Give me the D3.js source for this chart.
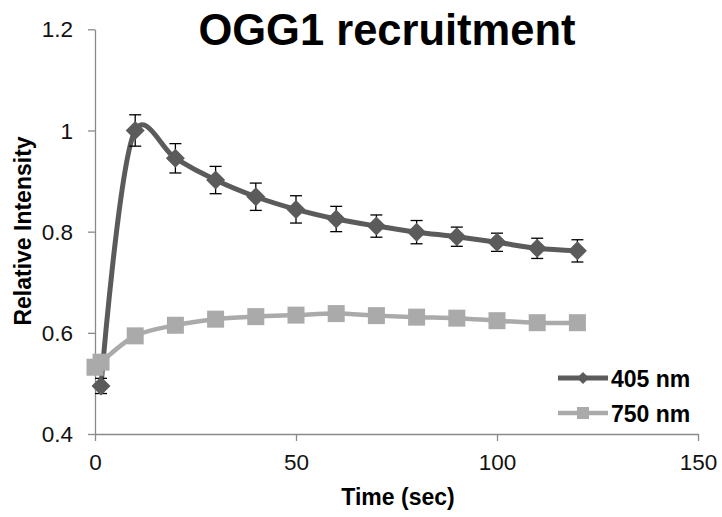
<!DOCTYPE html>
<html>
<head>
<meta charset="utf-8">
<script src="https://cdn.jsdelivr.net/npm/d3@7"></script>
<style>
  body { margin: 0; background: #fff; }
  text { font-family: Arial, "Liberation Sans", sans-serif; }
</style>
</head>
<body>
<svg width="722" height="517"></svg>
<script>
// data
var times405 = [1.5, 10, 20, 30, 40, 50, 60, 70, 80, 90, 100, 110, 120];
var nm405    = [0.495, 1.0, 0.945, 0.902, 0.869, 0.844, 0.825, 0.811, 0.799, 0.79, 0.779, 0.767, 0.762];
var err405   = [0.015, 0.031, 0.029, 0.027, 0.027, 0.027, 0.025, 0.022, 0.023, 0.019, 0.018, 0.02, 0.022];
var times750 = [0, 1.5, 10, 20, 30, 40, 50, 60, 70, 80, 90, 100, 110, 120];
var nm750    = [0.532, 0.542, 0.594, 0.615, 0.627, 0.632, 0.635, 0.638, 0.634, 0.631, 0.629, 0.624, 0.62, 0.62];
var xTicks = [0, 50, 100, 150];
var yTicks = [0.4, 0.6, 0.8, 1, 1.2];
var seriesNames = ['405 nm', '750 nm'];

var dark = '#5b5b5b', light = '#aaaaaa', axisCol = '#8a8a8a';

var svg = d3.select('svg');
var xScale = d3.scaleLinear().domain([0, 150]).range([95, 698]);
var yScale = d3.scaleLinear().domain([0.4, 1.2]).range([434, 29.3]);

// axes
var yAxis = svg.append('g')
  .attr('transform', 'translate(95,0)')
  .call(d3.axisLeft(yScale).tickValues(yTicks).tickSize(7).tickSizeOuter(0).tickPadding(15).tickFormat(d3.format('')));
var xAxis = svg.append('g')
  .attr('transform', 'translate(0,434)')
  .call(d3.axisBottom(xScale).tickValues(xTicks).tickSize(7).tickSizeOuter(0).tickPadding(14));
[xAxis, yAxis].forEach(function(a) {
  a.select('.domain').attr('stroke', axisCol).attr('stroke-width', 1.3);
  a.selectAll('.tick line').attr('stroke', axisCol).attr('stroke-width', 1.3);
  a.selectAll('.tick text').attr('fill', '#111').style('font-size', '22.5px')
    .style('font-family', 'Arial, "Liberation Sans", sans-serif');
});
yAxis.selectAll('.tick text').attr('dy', '0.34em');
xAxis.selectAll('.tick text').attr('dy', '0.68em');

// titles
svg.append('text').attr('x', 387).attr('y', 45).attr('text-anchor', 'middle')
  .style('font-size', '43.5px').style('font-weight', 'bold').text('OGG1 recruitment');
svg.append('text').attr('x', 398).attr('y', 505).attr('text-anchor', 'middle')
  .style('font-size', '23px').style('font-weight', 'bold').text('Time (sec)');
svg.append('text').attr('transform', 'translate(31,231) rotate(-90)').attr('text-anchor', 'middle')
  .style('font-size', '23px').style('font-weight', 'bold').text('Relative Intensity');

var d405 = times405.map((t, i) => ({t: t, v: nm405[i], e: err405[i]}));
var d750 = times750.map((t, i) => ({t: t, v: nm750[i]}));

// smoothed lines, close to the spreadsheet's smoothing
var line = d3.line().x(d => xScale(d.t)).y(d => yScale(d.v)).curve(d3.curveCatmullRom.alpha(0.2));
var diamond = 'M0,-9.5L9.5,0L0,9.5L-9.5,0Z';

// 405 nm series
var g405 = svg.append('g');
g405.append('path').datum(d405).attr('d', line)
  .attr('fill', 'none').attr('stroke', dark).attr('stroke-width', 5).attr('stroke-linejoin', 'round');
var eb = g405.selectAll('g.err').data(d405).enter().append('g').attr('class', 'err')
  .attr('transform', d => `translate(${xScale(d.t)},0)`);
eb.append('line').attr('x1', 0).attr('x2', 0)
  .attr('y1', d => yScale(d.v + d.e)).attr('y2', d => yScale(d.v - d.e))
  .attr('stroke', '#000').attr('stroke-width', 1.3);
eb.selectAll('line.cap').data(d => [d.v + d.e, d.v - d.e]).enter().append('line').attr('class', 'cap')
  .attr('x1', -6).attr('x2', 6).attr('y1', d => yScale(d)).attr('y2', d => yScale(d))
  .attr('stroke', '#000').attr('stroke-width', 1.3);
g405.selectAll('path.mark').data(d405).enter().append('path').attr('class', 'mark')
  .attr('d', diamond).attr('fill', dark)
  .attr('transform', d => `translate(${xScale(d.t)},${yScale(d.v)})`);

// 750 nm series
var g750 = svg.append('g');
g750.append('path').datum(d750).attr('d', line)
  .attr('fill', 'none').attr('stroke', light).attr('stroke-width', 4.5).attr('stroke-linejoin', 'round');
g750.selectAll('rect').data(d750).enter().append('rect')
  .attr('x', d => xScale(d.t) - 8.5).attr('y', d => yScale(d.v) - 8.5)
  .attr('width', 17).attr('height', 17).attr('fill', light);

// legend
var legend = svg.append('g').selectAll('g').data(seriesNames).enter().append('g')
  .attr('transform', (d, i) => `translate(558,${378 + i * 35})`);
legend.append('line').attr('x1', 0).attr('x2', 50)
  .attr('stroke', (d, i) => i ? light : dark).attr('stroke-width', (d, i) => i ? 4.5 : 5);
legend.filter((d, i) => i === 0).append('path').attr('d', 'M0,-6L6,0L0,6L-6,0Z')
  .attr('transform', 'translate(25,0)').attr('fill', dark);
legend.filter((d, i) => i === 1).append('rect').attr('x', 19).attr('y', -6)
  .attr('width', 12).attr('height', 12).attr('fill', light);
legend.append('text').attr('x', 53).attr('y', 8.5)
  .style('font-size', '23px').style('font-weight', 'bold').text(d => d);
</script>
</body>
</html>
